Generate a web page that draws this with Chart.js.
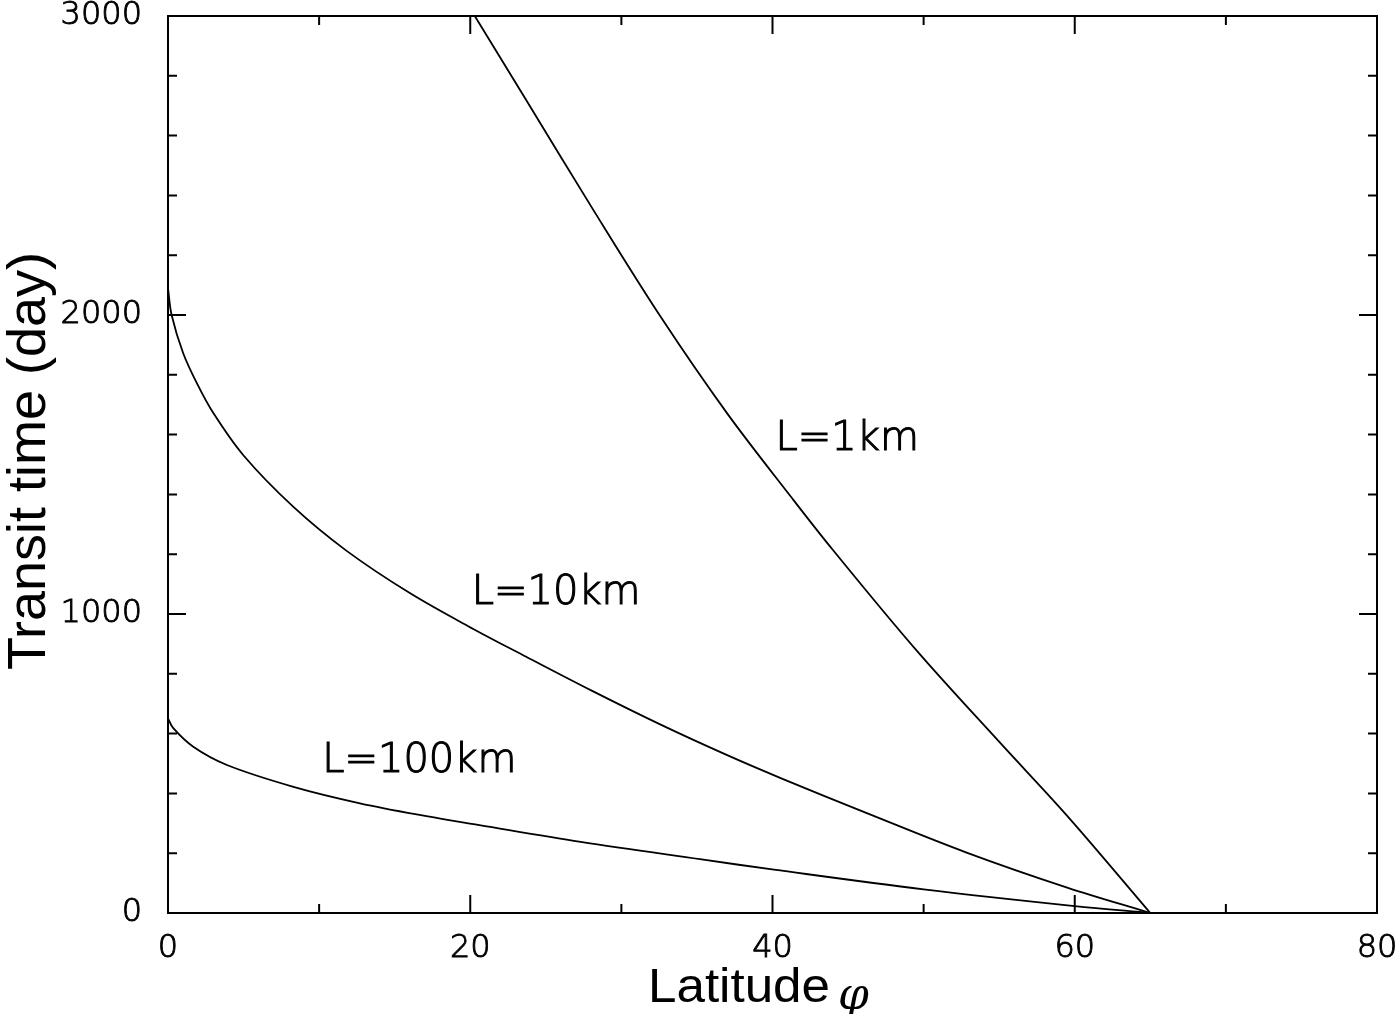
<!DOCTYPE html>
<html>
<head>
<meta charset="utf-8">
<script src="https://cdn.jsdelivr.net/npm/chart.js@4.4.1/dist/chart.umd.min.js"></script>
<style>
  body { margin: 0; background: #fff; }
  #wrap { width: 1400px; height: 1014px; }
</style>
</head>
<body>
<div id="wrap"><canvas id="myChart"></canvas></div>
<script>
// valores
const lat1 = [20.3, 23.7, 28.1, 32.6, 37.0, 41.3, 44.0, 49.5, 55.1, 59.5, 65]
const time1 = [3000, 2719, 2355, 1994, 1671, 1387, 1214, 880, 567, 325, 0]

const lat10 = [0, 0.24, 1.0, 1.9, 3.0, 5.0, 8.3, 11.8, 16.0, 20.2, 23.7, 28.1, 32.6, 37.0, 40.7, 46.2, 52.8, 59.5, 65]
const time10 = [2090, 2000, 1873, 1773, 1672, 1530, 1358, 1212, 1070, 950, 857, 742, 630, 528, 448, 335, 203, 85, 0]

const lat100 = [0, 0.35, 1.67, 3.9, 8.3, 12.7, 17.1, 20.6, 27.3, 35.2, 40.1, 50, 60, 65]
const time100 = [651, 618, 556, 495, 422, 367, 324, 294, 238, 180, 145, 79, 23, 0]

// etiquetas de cada curva (en coordenadas de datos)
const labelText = ["L=1km", "L=10km", "L=100km"]
const labelLat = [40.2, 20.1, 10.2]
const labelTime = [1582, 1067, 505]

const xTitle = "Latitude"
const yTitle = "Transit time (day)"

function puntos(xs, ys) {
    return xs.map((x, i) => ({ x: x, y: ys[i] }))
}

const lightFont = "'DejaVu Sans'"

const marco = {
    id: "marco",
    afterDraw(chart) {
        const ctx = chart.ctx
        const a = chart.chartArea
        const sx = chart.scales.x
        const sy = chart.scales.y
        ctx.save()
        ctx.strokeStyle = "#000"
        ctx.lineWidth = 2
        ctx.strokeRect(a.left, a.top, a.right - a.left, a.bottom - a.top)

        // ticks hacia adentro en los cuatro lados
        ctx.beginPath()
        for (let v = 10; v < 80; v += 10) {
            const px = sx.getPixelForValue(v)
            const len = v % 20 === 0 ? 18 : 9
            ctx.moveTo(px, a.bottom); ctx.lineTo(px, a.bottom - len)
            ctx.moveTo(px, a.top); ctx.lineTo(px, a.top + len)
        }
        for (let v = 200; v < 3000; v += 200) {
            const py = sy.getPixelForValue(v)
            const len = v % 1000 === 0 ? 18 : 9
            ctx.moveTo(a.left, py); ctx.lineTo(a.left + len, py)
            ctx.moveTo(a.right, py); ctx.lineTo(a.right - len, py)
        }
        ctx.stroke()

        // etiquetas de las curvas
        ctx.fillStyle = "#000"
        ctx.font = "200 40px " + lightFont
        ctx.textAlign = "left"
        ctx.textBaseline = "middle"
        ctx.lineWidth = 1.1
        labelText.forEach((t, i) => {
            const px = sx.getPixelForValue(labelLat[i])
            const py = sy.getPixelForValue(labelTime[i])
            ctx.fillText(t, px, py)
            ctx.strokeText(t, px, py)
        })

        // titulo eje y
        ctx.save()
        ctx.translate(45, 461)
        ctx.rotate(-Math.PI / 2)
        ctx.font = "54px 'Liberation Sans'"
        ctx.textAlign = "center"
        ctx.textBaseline = "alphabetic"
        ctx.fillText(yTitle, 0, 0)
        ctx.restore()

        // titulo eje x
        ctx.save()
        ctx.font = "48px 'Liberation Sans'"
        ctx.textAlign = "left"
        ctx.textBaseline = "alphabetic"
        const w = ctx.measureText(xTitle).width
        ctx.translate(648, 1002)
        ctx.scale(182 / w, 1)
        ctx.fillText(xTitle, 0, 0)
        ctx.restore()
        ctx.font = "italic 44px 'DejaVu Serif'"
        ctx.textAlign = "left"
        ctx.fillText("\u03c6", 838, 998)
        ctx.restore()
    }
}

const linea = (xs, ys) => ({
    data: puntos(xs, ys),
    borderColor: "#000",
    borderWidth: 1.8,
    pointRadius: 0,
    fill: false,
    tension: 0.35
})

// quita el relleno que chart.js agrega por las etiquetas de los extremos
function sinPadding(scale) {
    scale.paddingTop = 0
    scale.paddingBottom = 0
    scale.paddingLeft = 0
    scale.paddingRight = 0
}

const tickFont = { family: lightFont, size: 32, weight: 200 }

const config = {
    type: "line",
    data: {
        datasets: [linea(lat1, time1), linea(lat10, time10), linea(lat100, time100)]
    },
    options: {
        responsive: true,
        maintainAspectRatio: false,
        animation: false,
        layout: { padding: { top: 16, right: 23, left: 0, bottom: 0 } },
        plugins: { legend: { display: false }, tooltip: { enabled: false } },
        scales: {
            x: {
                type: "linear",
                min: 0,
                max: 80,
                grid: { display: false },
                border: { display: false },
                ticks: {
                    stepSize: 20,
                    padding: 8,
                    color: "#000",
                    textStrokeColor: "#000",
                    textStrokeWidth: 0.9,
                    maxRotation: 0,
                    callback: (v) => String(v),
                    font: tickFont
                },
                afterFit(scale) { scale.height = 101; sinPadding(scale) }
            },
            y: {
                min: 0,
                max: 3000,
                grid: { display: false },
                border: { display: false },
                ticks: {
                    stepSize: 1000,
                    padding: 18,
                    color: "#000",
                    textStrokeColor: "#000",
                    textStrokeWidth: 0.9,
                    callback: (v) => String(v),
                    font: tickFont
                },
                afterFit(scale) { scale.width = 168; sinPadding(scale) }
            }
        }
    },
    plugins: [marco]
}

new Chart(document.querySelector("#myChart"), config)
</script>
</body>
</html>
